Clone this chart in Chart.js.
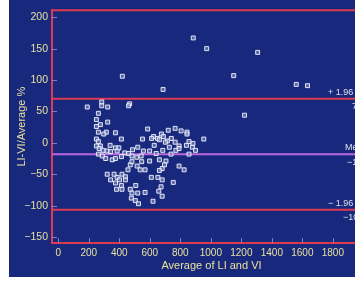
<!DOCTYPE html>
<html>
<head>
<meta charset="utf-8">
<script src="https://cdn.jsdelivr.net/npm/chart.js@4/dist/chart.umd.min.js"></script>
<style>
html, body { margin: 0; padding: 0; background: #fff; overflow: hidden; }
#wrap { position: absolute; left: 9px; top: 0; width: 367px; height: 277px; }
</style>
</head>
<body>
<div id="wrap"><canvas id="chart1" width="367" height="277"></canvas></div>
<script>
// average of LI and VI (x) and difference as % of average (y)
const avgLIVI = [885, 973, 1307, 1150, 687, 1560, 1634, 1221, 420,
    190, 285, 285, 324, 468, 461, 263, 250, 324, 276, 250, 263, 315, 298, 375,
    250, 263, 414, 552, 586, 250, 276, 375, 521,
    721, 766, 805, 844, 844, 625, 676, 689, 650, 663, 715, 741, 766, 702, 857, 883, 954,
    612, 629, 728, 792, 840, 879,
    268, 294, 321, 343, 386, 436, 461, 263, 289, 311, 354, 375, 414, 483, 515, 543,
    472, 457, 517, 537, 569, 321, 366, 386, 418, 440, 343, 401, 440, 375, 414, 382,
    418, 472, 508, 483, 521, 479, 505, 526,
    599, 642, 685, 739, 771, 792, 857, 900, 599, 663, 706, 696, 681, 792, 825, 663,
    610, 653, 681, 754, 674, 659, 681, 621, 569,
    397, 487, 558, 483, 547, 340];
const diffPct = [167, 150, 144, 107, 85, 93, 91, 44, 106,
    57, 65, 59, 57, 62, 59, 47, 37, 33, 29, 26, 17, 17, 14, 16,
    6, 2, 6, 6, 22, -5, -5, -8, -7,
    20, 23, 19, 17, 14, 10, 14, 10, 7, 5, 3, 7, 1, 1, 2, -1, 6,
    7, -4, -7, -5, -4, -7,
    -9, -12, -13, -14, -13, -16, -17, -18, -21, -25, -27, -25, -22, -21, -23, -21,
    -35, -43, -37, -43, -43, -50, -50, -55, -50, -54, -59, -59, -59, -64, -68, -74,
    -74, -74, -68, -80, -80, -88, -92, -97,
    -13, -17, -12, -18, -12, -9, -18, -12, -29, -27, -29, -35, -41, -37, -43, -44,
    -55, -55, -59, -63, -70, -77, -85, -93, -79,
    -8, -11, -13, -30, -30, -4];

const meanDiff = -18.3;
const upperLoA = 70.0;
const lowerLoA = -106.6;
const refValues = [upperLoA, meanDiff, lowerLoA];
const refAbove = ['+ 1.96 SD', 'Mean', '\u2212 1.96 SD'];
const refBelow = ['70.0', '\u221218.3', '\u2212106.6'];
const xTickValues = [0, 200, 400, 600, 800, 1000, 1200, 1400, 1600, 1800];
const yTickValues = [-150, -100, -50, 0, 50, 100, 150, 200];

const X_MIN = -41, X_MAX = 2050, Y_MIN = -159.5, Y_MAX = 211;
const RED = 'rgb(222,58,82)';
const MAUVE = 'rgb(190,100,225)';
const LABEL = 'rgb(232,224,160)';

const points = avgLIVI.map(function(x, i) { return {x: x, y: diffPct[i]}; });

function refLine(v, color) {
    return {
        type: 'line',
        data: [{x: X_MIN, y: v}, {x: X_MAX, y: v}],
        borderColor: color,
        borderWidth: 2,
        pointRadius: 0,
        order: 2
    };
}

const bgPlugin = {
    id: 'bg',
    beforeDraw: function(chart) {
        const ctx = chart.ctx;
        ctx.save();
        ctx.fillStyle = 'rgb(24,40,124)';
        ctx.fillRect(0, 0, chart.width, chart.height);
        ctx.restore();
    },
    beforeDatasetsDraw: function(chart) {
        const ctx = chart.ctx, a = chart.chartArea;
        const xs = chart.scales.x, ys = chart.scales.y;
        ctx.save();
        // small inward ticks
        ctx.strokeStyle = 'rgba(140,150,200,0.8)';
        ctx.lineWidth = 1;
        yTickValues.forEach(function(v) {
            const y = Math.round(ys.getPixelForValue(v)) + 0.5;
            ctx.beginPath(); ctx.moveTo(a.left, y); ctx.lineTo(a.left + 5, y); ctx.stroke();
        });
        xTickValues.forEach(function(v) {
            const x = Math.round(xs.getPixelForValue(v)) + 0.5;
            ctx.beginPath(); ctx.moveTo(x, a.bottom); ctx.lineTo(x, a.bottom - 5); ctx.stroke();
        });
        // top border
        ctx.strokeStyle = RED;
        ctx.lineWidth = 2;
        ctx.beginPath(); ctx.moveTo(a.left, a.top); ctx.lineTo(a.right, a.top); ctx.stroke();
        ctx.restore();
    },
    afterDraw: function(chart) {
        const ctx = chart.ctx, ys = chart.scales.y;
        const aboveX = [319, 336, 319];
        const belowX = [343, 338, 334];
        ctx.save();
        ctx.fillStyle = 'rgb(220,224,236)';
        ctx.font = '9px "Liberation Sans", Arial, sans-serif';
        ctx.textBaseline = 'middle';
        ctx.textAlign = 'left';
        refValues.forEach(function(v, i) {
            const y = ys.getPixelForValue(v);
            ctx.fillText(refAbove[i], aboveX[i], y - 6.5);
            ctx.fillText(refBelow[i], belowX[i], y + 8);
        });
        ctx.restore();
    }
};

new Chart(document.getElementById('chart1'), {
    type: 'scatter',
    data: {
        datasets: [
            {
                data: points,
                pointStyle: 'rect',
                pointRadius: 2.8,
                pointBorderWidth: 1,
                pointBorderColor: 'rgba(235,238,250,0.95)',
                pointBackgroundColor: 'rgba(130,140,195,0.6)',
                order: 1
            },
            refLine(upperLoA, RED),
            refLine(meanDiff, MAUVE),
            refLine(lowerLoA, RED)
        ]
    },
    options: {
        responsive: false,
        animation: false,
        layout: { padding: { top: 8, right: 0, bottom: 0, left: 0 } },
        plugins: {
            legend: { display: false },
            tooltip: { enabled: false }
        },
        scales: {
            x: {
                type: 'linear',
                min: X_MIN,
                max: X_MAX,
                afterBuildTicks: function(s) {
                    s.ticks = xTickValues.map(function(v) { return {value: v}; });
                },
                afterFit: function(s) { s.height = 34; },
                grid: { display: false, drawTicks: false },
                border: { color: RED, width: 2 },
                ticks: {
                    color: LABEL,
                    padding: 4,
                    maxRotation: 0,
                    autoSkip: false,
                    callback: function(v) { return String(v); },
                    font: { family: '"Liberation Sans", Arial, sans-serif', size: 10 }
                },
                title: {
                    display: true,
                    text: 'Average of LI and VI',
                    color: LABEL,
                    padding: { top: 0, bottom: 4 },
                    font: { family: '"Liberation Sans", Arial, sans-serif', size: 11 }
                }
            },
            y: {
                min: Y_MIN,
                max: Y_MAX,
                afterBuildTicks: function(s) {
                    s.ticks = yTickValues.map(function(v) { return {value: v}; });
                },
                afterFit: function(s) { s.width = 43; },
                grid: { display: false, drawTicks: false },
                border: { color: RED, width: 2 },
                ticks: {
                    color: LABEL,
                    padding: 4,
                    autoSkip: false,
                    callback: function(v) { return v < 0 ? '\u2212' + Math.abs(v) : String(v); },
                    font: { family: '"Liberation Sans", Arial, sans-serif', size: 10.5 }
                },
                title: {
                    display: true,
                    text: 'LI-VI/Average %',
                    color: LABEL,
                    padding: { top: 6, bottom: 0 },
                    font: { family: '"Liberation Sans", Arial, sans-serif', size: 11 }
                }
            }
        }
    },
    plugins: [bgPlugin]
});
</script>
</body>
</html>
